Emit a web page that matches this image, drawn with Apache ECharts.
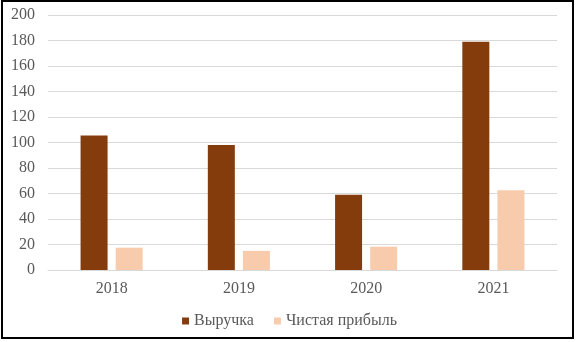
<!DOCTYPE html>
<html>
<head>
<meta charset="utf-8">
<script src="https://cdn.jsdelivr.net/npm/echarts@6/dist/echarts.min.js"></script>
<style>
html,body{margin:0;padding:0;background:#fff;}
#wrap{position:absolute;left:1px;top:0px;width:573px;height:339px;border:2px solid #000;box-sizing:border-box;}
#c{position:absolute;left:0;top:0;width:579px;height:342px;}
</style>
</head>
<body>
<div id="c"></div>
<div id="wrap"></div>
<script>
const categories = ['2018', '2019', '2020', '2021'];
const revenue = [105.5, 98, 59, 179];
const netProfit = [17.5, 15, 18.3, 62.5];
const seriesNames = ['Выручка', 'Чистая прибыль'];

const font = '"Liberation Serif", "Times New Roman", serif';
const chart = echarts.init(document.getElementById('c'), null, {renderer: 'canvas'});
chart.setOption({
  animation: false,
  backgroundColor: '#fff',
  textStyle: {fontFamily: font},
  grid: {left: 48, right: 22, top: 15, bottom: 72, containLabel: false},
  legend: {
    data: seriesNames,
    bottom: 8,
    left: 'center',
    itemWidth: 7,
    itemHeight: 7,
    itemGap: 20,
    icon: 'rect',
    textStyle: {fontFamily: font, fontSize: 16, color: '#595959'}
  },
  xAxis: {
    type: 'category',
    data: categories,
    axisLine: {lineStyle: {color: '#d9d9d9', width: 1}},
    axisTick: {show: false},
    axisLabel: {fontFamily: font, fontSize: 16, color: '#595959', margin: 11}
  },
  yAxis: {
    type: 'value',
    min: 0, max: 200, interval: 20,
    axisLine: {show: false},
    axisTick: {show: false},
    splitLine: {lineStyle: {color: '#d9d9d9', width: 1}},
    axisLabel: {fontFamily: font, fontSize: 16, color: '#595959', margin: 13}
  },
  series: [
    {name: seriesNames[0], type: 'bar', data: revenue, barWidth: 27, barGap: '30%',
     itemStyle: {color: '#843C0C'}},
    {name: seriesNames[1], type: 'bar', data: netProfit, barWidth: 27,
     itemStyle: {color: '#F8CBAD'}}
  ]
});
</script>
</body>
</html>
